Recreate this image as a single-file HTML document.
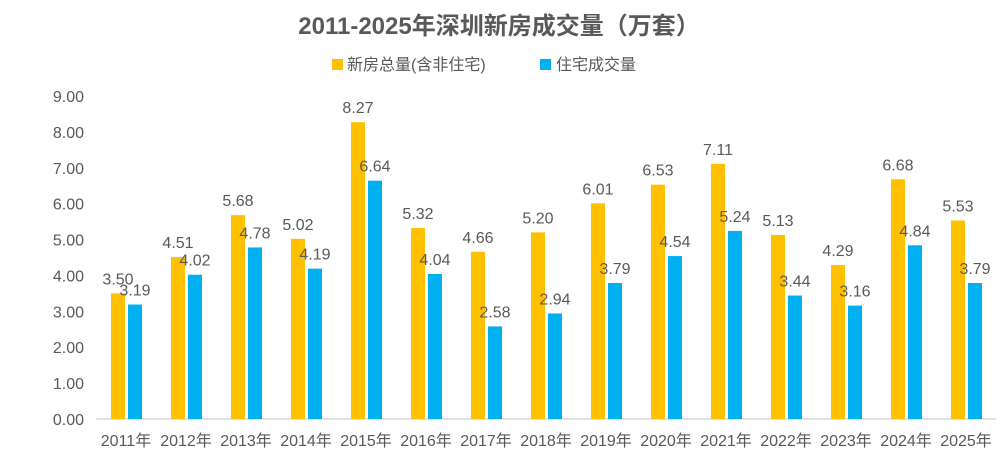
<!DOCTYPE html>
<html><head><meta charset="utf-8"><style>
body{margin:0;background:#fff;}
svg text{font-family:"Liberation Sans","Noto Sans CJK SC",sans-serif;}
</style></head><body>
<svg id="chart" width="1008" height="455" xmlns="http://www.w3.org/2000/svg">
<text x="499" y="34" text-anchor="middle" font-size="24" font-weight="bold" fill="#595959">2011-2025年深圳新房成交量（万套）</text>
<g>
<rect x="332" y="59" width="11" height="11" fill="#FFC000"/>
<text x="347" y="70" font-size="16" fill="#595959">新房总量(含非住宅)</text>
<rect x="540" y="59" width="11" height="11" fill="#00B0F0"/>
<text x="556" y="70" font-size="16" fill="#595959">住宅成交量</text>
</g>
<g id="axes"></g>
<g id="bars"></g>
</svg>
<script>
const categories=["2011年","2012年","2013年","2014年","2015年","2016年","2017年","2018年","2019年","2020年","2021年","2022年","2023年","2024年","2025年"];
const totalValues=[3.50,4.51,5.68,5.02,8.27,5.32,4.66,5.20,6.01,6.53,7.11,5.13,4.29,6.68,5.53];
const residentialValues=[3.19,4.02,4.78,4.19,6.64,4.04,2.58,2.94,3.79,4.54,5.24,3.44,3.16,4.84,3.79];
const yTicks=[0,1,2,3,4,5,6,7,8,9];
const NS="http://www.w3.org/2000/svg";
const x0=96,x1=996,y0=419,yTop=96,yMax=9;
const step=(x1-x0)/categories.length;
function yScale(v){return y0-(v/yMax)*(y0-yTop);}
function xCenter(i){return x0+step*(i+0.5);}
function mk(tag,attrs,parent){const e=document.createElementNS(NS,tag);for(const k in attrs)e.setAttribute(k,attrs[k]);parent.appendChild(e);return e;}
const axes=document.getElementById('axes'),bars=document.getElementById('bars');
yTicks.forEach(t=>{
  const tx=mk('text',{x:84,y:yScale(t)+6,'text-anchor':'end','font-size':16,fill:'#595959'},axes);
  tx.textContent=t.toFixed(2);
  
  
});
const ax=mk('line',{x1:x0,x2:x1,y1:y0,y2:y0,stroke:'#D9D9D9','stroke-width':1.5},axes);


categories.forEach((c,i)=>{
  const cx=xCenter(i);
  const t=mk('text',{x:cx,y:446,'text-anchor':'middle','font-size':16,fill:'#595959'},axes);
  t.textContent=c;
  
  
  const yv=totalValues[i],rv=residentialValues[i];
  const b1=mk('rect',{x:cx-15,y:yScale(yv),width:14,height:y0-yScale(yv),fill:'#FFC000'},bars);
  
  
  const b2=mk('rect',{x:cx+2,y:yScale(rv),width:14,height:y0-yScale(rv),fill:'#00B0F0'},bars);
  
  
  const l1=mk('text',{x:cx-8,y:yScale(yv)-9,'text-anchor':'middle','font-size':16,fill:'#595959'},bars);
  l1.textContent=yv.toFixed(2);
  
  
  const l2=mk('text',{x:cx+9,y:yScale(rv)-9,'text-anchor':'middle','font-size':16,fill:'#595959'},bars);
  l2.textContent=rv.toFixed(2);
  
  
});
</script>
</body></html>
